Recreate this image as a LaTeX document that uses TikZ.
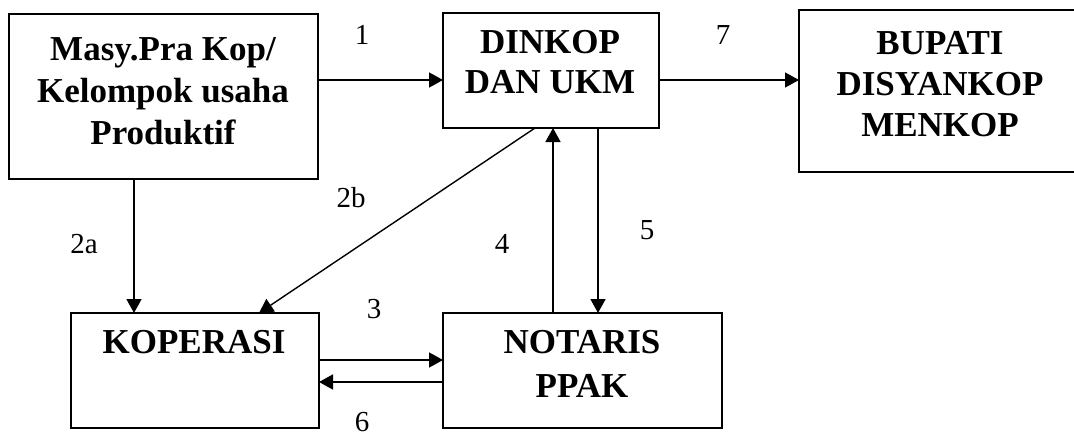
\documentclass[tikz,border=0pt]{standalone}
\usepackage{fontspec}
\setmainfont{Liberation Serif}
\usetikzlibrary{arrows.meta}
\newcommand\boxlines[2]{\fontsize{35}{#1}\selectfont\bfseries\begin{tabular}[t]{@{}c@{}}#2\end{tabular}}
\begin{document}
\begin{tikzpicture}[x=1pt,y=-1pt,
  box/.style={draw,line width=2pt,rectangle,inner sep=0pt,outer sep=0pt},
  boxtext/.style={inner sep=0pt,anchor=base},
  arr/.style={line width=1.6pt,-{Triangle[length=14pt,width=15pt]}},
  lab/.style={inner sep=0pt,anchor=base,font=\fontsize{29}{34}\selectfont}]
\useasboundingbox (0,0) rectangle (1074,436);
% boxes
\node[box,minimum width=309pt,minimum height=165pt] (masy) at (163.5,96.5) {};
\node[box,minimum width=216pt,minimum height=115pt] (dinkop) at (551,70.5) {};
\node[box,minimum width=281pt,minimum height=162pt] (bupati) at (939.5,91) {};
\node[box,minimum width=248pt,minimum height=115pt] (kop) at (195,370.5) {};
\node[box,minimum width=279pt,minimum height=115pt] (notaris) at (582.5,370.5) {};
% texts
\node[boxtext] (masyt) at (163,60) {\boxlines{42.5}{Masy.Pra Kop/\\Kelompok usaha\\Produktif}};
\node[boxtext] (dinkopt) at (550,54) {\boxlines{39.5}{DINKOP\\DAN UKM}};
\node[boxtext] (bupatit) at (940,55) {\boxlines{41}{BUPATI\\DISYANKOP\\MENKOP}};
\node[boxtext] (kopt) at (194,353) {\boxlines{42}{KOPERASI}};
\node[boxtext] (notarist) at (582,353) {\boxlines{44}{NOTARIS\\PPAK}};
% connectors
\draw[arr] ([yshift=16.5pt]masy.east) -- ([yshift=-9.5pt]dinkop.west);
\draw[arr] ([yshift=-9.5pt]dinkop.east) -- ([yshift=11pt]bupati.west);
\draw[arr] ([xshift=-29.5pt]masy.south) -- ([xshift=-61pt]kop.north);
\draw[arr,line width=1.4pt] ([xshift=-16pt]dinkop.south) -- ([xshift=64pt]kop.north);
\draw[arr] ([xshift=-29.5pt]notaris.north) -- ([xshift=2pt]dinkop.south);
\draw[arr] ([xshift=47pt]dinkop.south) -- ([xshift=15.5pt]notaris.north);
\draw[arr] ([yshift=10.5pt]kop.east) -- ([yshift=10.5pt]notaris.west);
\draw[arr] ([yshift=-11.5pt]notaris.west) -- ([yshift=-11.5pt]kop.east);
% labels
\node[lab] (l1) at (362,45) {1};
\node[lab] (l7) at (723,45) {7};
\node[lab] (l2a) at (84,253) {2a};
\node[lab] (l2b) at (351,207) {2b};
\node[lab] (l4) at (502,253) {4};
\node[lab] (l5) at (647,239) {5};
\node[lab] (l3) at (374,318) {3};
\node[lab] (l6) at (362,431) {6};
\end{tikzpicture}
\end{document}
